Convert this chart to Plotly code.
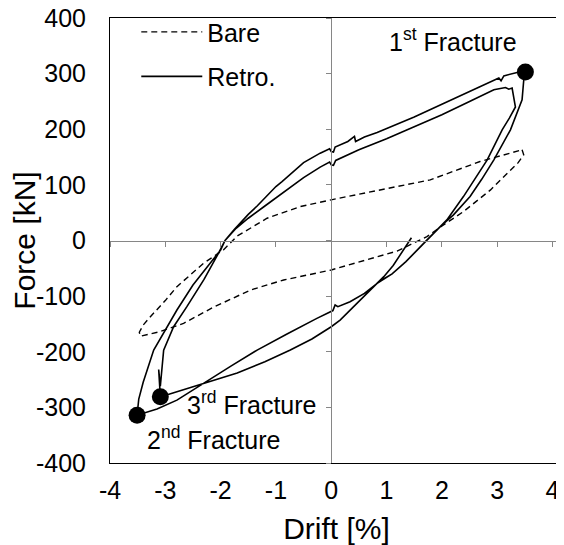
import plotly.graph_objects as go

# ---- data ----
bare_drift = [3.45, 3.48, 3.38, 3.24, 3.05, 2.88, 2.60, 2.39, 2.03, 1.73, 1.19, 0.58, 0.00,
              -0.86, -1.46, -2.13, -2.67, -3.10, -3.33, -3.45, -3.47, -3.40, -3.27, -3.00,
              -2.79, -2.31, -1.95, -1.70, -1.16, -0.56, 0.04, 0.89, 1.79, 2.69, 3.20, 3.45]
bare_force = [163, 154, 140, 127, 108, 91, 68, 52, 28, 7, -19, -37, -53,
              -71, -89, -120, -149, -164, -170, -172, -165, -152, -137, -108,
              -83, -41, -17, 8, 40, 61, 74, 91, 109, 142, 157, 163]

retro_drift = [1.45, 1.30, 1.12, 0.95, 0.83,
               0.60, 0.35, 0.16, 0.00, -0.35, -0.74, -1.20, -1.70, -2.20, -2.50, -2.79, -2.95, -3.09,
               -3.12, -3.09, -3.03, -2.85, -2.61, -2.30, -2.05, -1.92, -1.72,
               -1.50, -1.20, -0.89, -0.50, -0.20, -0.03, 0.00, 0.04, 0.08, 0.50, 1.00, 1.50, 2.00,
               2.50, 2.94, 3.15, 3.21, 3.27, 3.30, 3.33,
               3.22, 3.09, 2.82, 2.60, 2.39, 2.09, 1.79, 1.60, 1.35, 1.10, 0.83,
               0.60, 0.34, 0.12, 0.07, 0.03, -0.26, -0.80, -1.34, -1.80, -2.30, -2.79, -3.15, -3.51,
               -3.48, -3.40, -3.21, -3.00, -2.79, -2.50, -2.20, -2.00, -1.92, -1.75,
               -1.50, -1.34, -1.00, -0.89, -0.50, -0.20, -0.03, 0.00, 0.04, 0.07, 0.30, 0.42, 0.44,
               0.60, 0.83, 1.50, 2.00, 2.50, 3.03, 3.07, 3.12, 3.36, 3.51,
               3.48, 3.45, 3.24, 2.94, 2.72, 2.51, 2.21, 1.97, 1.75, 1.60, 1.35, 1.10, 0.90]
retro_force = [5, -18, -45, -65, -77,
               -100, -125, -143, -155, -177, -197, -218, -238, -254, -264, -272, -277, -281,
               -232, -262, -197, -155, -119, -70, -25, 0, 22,
               40, 62, 85, 113, 132, 141, 136, 135, 144, 163, 183, 204, 226,
               250, 271, 275, 272, 274, 256, 240,
               220, 199, 145, 110, 79, 37, 7, -12, -38, -60, -77,
               -95, -110, -119, -116, -126, -140, -168, -197, -225, -257, -287, -303, -314,
               -285, -255, -197, -160, -125, -80, -42, -17, 0, 20,
               47, 62, 97, 106, 140, 157, 165, 160, 159, 168, 178, 187, 178,
               186, 194, 222, 245, 268, 292, 287, 296, 302, 303,
               288, 253, 199, 145, 110, 79, 46, 25, 3, -12, -38, -60, -72]

fracture_drift = [3.51, -3.51, -3.09]
fracture_force = [303, -314, -281]
fracture_labels = ["1<sup>st</sup> Fracture", "2<sup>nd</sup> Fracture", "3<sup>rd</sup> Fracture"]
label_drift = [2.20, -2.12, -1.44]
label_force = [360, -355, -292]

x_ticks = [-4, -3, -2, -1, 0, 1, 2, 3, 4]
y_ticks = [-400, -300, -200, -100, 0, 100, 200, 300, 400]
x_ticktext = [str(v) for v in x_ticks]   # plain hyphen-minus, as in the reference
y_ticktext = [str(v) for v in y_ticks]
x_range = [-4, 4.19]
y_range = [-400, 400]

FONT = "Liberation Sans, Arial, sans-serif"
FS = 25

fig = go.Figure()
fig.add_trace(go.Scatter(x=bare_drift, y=bare_force, mode="lines", name="Bare",
                         line=dict(color="black", width=1.4, dash="6px,4px"),
                         xaxis="x2", yaxis="y2", legendgroup="a"))
fig.add_trace(go.Scatter(x=retro_drift, y=retro_force, mode="lines", name="Retro.",
                         line=dict(color="black", width=1.6), legendgroup="b"))
fig.add_trace(go.Scatter(x=fracture_drift, y=fracture_force, mode="markers",
                         marker=dict(color="black", size=17), showlegend=False))

for lx, ly, t in zip(label_drift, label_force, fracture_labels):
    fig.add_annotation(x=lx, y=ly, text=t, showarrow=False,
                       font=dict(family=FONT, size=FS, color="black"))

# the page body adds an 8 px offset, so the figure is 8 px smaller than the window
fig.update_layout(
    width=556, height=537,
    margin=dict(l=102, r=1, t=10, b=82),
    paper_bgcolor="white", plot_bgcolor="white",
    font=dict(family=FONT, size=FS, color="black"),
    showlegend=True,
    legend=dict(x=0.058, y=1.02, xanchor="left", yanchor="top",
                bgcolor="rgba(0,0,0,0)", font=dict(size=FS),
                tracegroupgap=9, itemwidth=61),
    xaxis=dict(range=x_range, tickvals=x_ticks, ticktext=x_ticktext, ticks="",
               showline=True, mirror=True, automargin=False, ticklabeloverflow="allow",
               linecolor="black", linewidth=1, showgrid=False, zeroline=False,
               ticklabelstandoff=5, title=dict(text="Drift [%]", standoff=17)),
    yaxis=dict(range=y_range, tickvals=y_ticks, ticktext=y_ticktext, ticks="",
               showline=True, mirror=True, automargin=False, ticklabeloverflow="allow",
               linecolor="black", linewidth=1, showgrid=False, zeroline=False,
               ticklabelstandoff=18, title=dict(text="Force [kN]", standoff=1)),
    xaxis2=dict(range=x_range, overlaying="x", anchor="free", position=0.5,
                tickvals=x_ticks, ticks="outside", ticklen=5, tickcolor="#868686",
                showline=True, linecolor="#868686", linewidth=1, automargin=False,
                showticklabels=False, showgrid=False, zeroline=False),
    yaxis2=dict(range=y_range, overlaying="y", anchor="free",
                position=(0 - x_range[0]) / (x_range[1] - x_range[0]),
                tickvals=y_ticks, ticks="outside", ticklen=5, tickcolor="#868686",
                showline=True, linecolor="#868686", linewidth=1, automargin=False,
                showticklabels=False, showgrid=False, zeroline=False),
)

fig.write_html("out.html")
